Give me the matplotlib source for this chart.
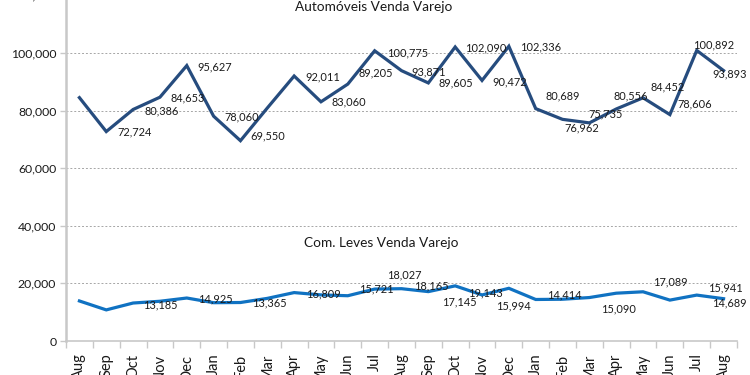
import matplotlib
matplotlib.use('Agg')
import matplotlib.pyplot as plt

# ── data ─────────────────────────────────────────────────────────────────────
months = ["Aug", "Sep", "Oct", "Nov", "Dec", "Jan", "Feb", "Mar", "Apr", "May", "Jun", "Jul",
          "Aug", "Sep", "Oct", "Nov", "Dec", "Jan", "Feb", "Mar", "Apr", "May", "Jun", "Jul", "Aug"]

autos = [84500, 72724, 80386, 84653, 95627, 78060, 69550, 80900, 92011, 83060, 89205, 100775,
         93871, 89605, 102090, 90472, 102336, 80689, 76962, 75735, 80556, 84452, 78606, 100892, 93893]

leves = [13900, 10800, 13185, 13800, 14925, 13300, 13365, 14800, 16809, 16000, 15721, 18027,
         18165, 17145, 19143, 15994, 18300, 14414, 14500, 15090, 16600, 17089, 14200, 15941, 14689]

# label offsets in pixels (dx right, dy down), None = no label shown
autos_off = [None, (11, 0), (11, 1), (11, 1), (11, 1), (11, 1), (10, -5), None, (11, 1), (11, 0),
             (11, -11), (12, 2), (10, 1), (10, 0), (10, 1), (10, 1), (11, 1), (10, -13), (2, 9),
             (-1, -9), (-3, -13), (7, -11), (8, -11), (-4, -6), (-11, 3)]
leves_off = [None, None, (10, 2), None, (11, 1), None, (12, 0), None, (12, 1), None,
             (11, -7), (12, -14), (13, -3), (14, 10), (13, 7), (14, 11), None, (11, -5), None,
             (12, 11), None, (10, -10), None, (11, -7), (-12, 4)]

AUTO_C = "#264C7E"
LEVE_C = "#1072C2"
TXT = "#1a1a1a"
AXC = "#c8c8c8"

plt.rcParams["font.family"] = ["Lato", "DejaVu Sans"]

fig = plt.figure(figsize=(7.5, 3.75), dpi=100)
ax = fig.add_axes([66 / 750, 1 - 341 / 375, (737 - 66) / 750, 345.6 / 375])

x = list(range(len(months)))
ax.plot(x, autos, color=AUTO_C, lw=2.3, zorder=3, solid_joinstyle="miter")
ax.plot(x, leves, color=LEVE_C, lw=2.3, zorder=3, solid_joinstyle="miter")

for vals, offs in ((autos, autos_off), (leves, leves_off)):
    for i, (v, o) in enumerate(zip(vals, offs)):
        if o is None:
            continue
        ax.annotate(f"{v:,}", (i, v), xytext=(o[0], -o[1]), textcoords="offset pixels",
                    ha="left", va="center", fontsize=7.9, color=TXT, zorder=4,
                    annotation_clip=False)

ax.set_xlim(-0.5, len(months) - 0.5)
ax.set_ylim(0, 120000)
ax.set_yticks(range(0, 120001, 20000))
ax.yaxis.set_major_formatter(matplotlib.ticker.FuncFormatter(lambda v, p: f"{int(v):,}"))
ax.grid(axis="y", color="#a6a6a6", ls=(0, (2, 2)), lw=0.7, zorder=0)

ax.set_xticks(x)
ax.set_xticklabels(months, rotation=90, va="top", ha="center", fontsize=10.5, color=TXT)
ax.set_xticks([i - 0.5 for i in range(len(months) + 1)], minor=True)
ax.tick_params(axis="x", which="major", length=0, pad=9)
ax.tick_params(axis="x", which="minor", length=5, color=AXC, width=1)
ax.tick_params(axis="y", length=4, color=AXC, width=1, labelsize=8.8, labelcolor=TXT, pad=3)

for s in ("top", "right"):
    ax.spines[s].set_visible(False)
ax.spines["left"].set_color(AXC)
ax.spines["left"].set_linewidth(1.8)
ax.spines["bottom"].set_color(AXC)
ax.spines["bottom"].set_linewidth(1.2)

fig.text(374 / 750, 1 - 7 / 375, "Automóveis Venda Varejo", ha="center", va="center",
         fontsize=9.8, color=TXT)
fig.text(381 / 750, 1 - 243 / 375, "Com. Leves Venda Varejo", ha="center", va="center",
         fontsize=9.8, color=TXT)

fig.savefig("out.png", dpi=100, facecolor="white")
